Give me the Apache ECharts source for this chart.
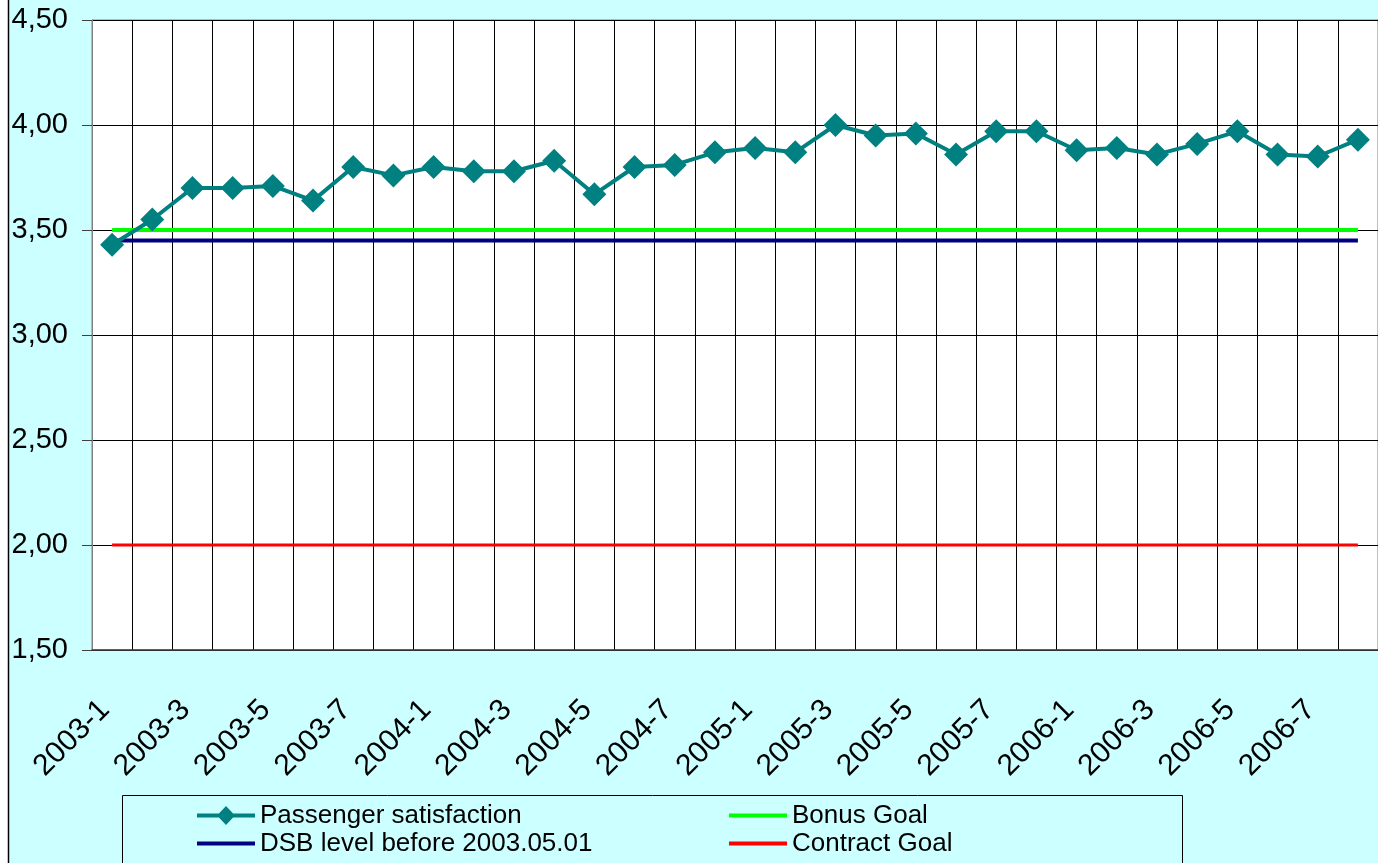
<!DOCTYPE html>
<html>
<head>
<meta charset="utf-8">
<script src="https://cdn.jsdelivr.net/npm/echarts@6/dist/echarts.min.js"></script>
<style>
  html, body { margin: 0; padding: 0; background: #fff; }
  #chart { width: 1378px; height: 863px; }
</style>
</head>
<body>
<div id="chart"></div>
<script>
// periods per year, 2003-1 .. 2006-8
const categories = [
  '2003-1', '2003-2', '2003-3', '2003-4', '2003-5', '2003-6', '2003-7', '2003-8',
  '2004-1', '2004-2', '2004-3', '2004-4', '2004-5', '2004-6', '2004-7', '2004-8',
  '2005-1', '2005-2', '2005-3', '2005-4', '2005-5', '2005-6', '2005-7', '2005-8',
  '2006-1', '2006-2', '2006-3', '2006-4', '2006-5', '2006-6', '2006-7', '2006-8'
]
const satisfaction = [
  3.43, 3.55, 3.70, 3.70, 3.71, 3.64, 3.80, 3.76,
  3.80, 3.78, 3.78, 3.83, 3.67, 3.80, 3.81, 3.87,
  3.89, 3.87, 4.00, 3.95, 3.96, 3.86, 3.97, 3.97,
  3.88, 3.89, 3.86, 3.91, 3.97, 3.86, 3.85, 3.93
]
// goal levels, drawn from the first to the last period
const bonusGoal = 3.50
const dsbLevel = 3.45
const contractGoal = 2.00

const first = categories[0]
const last = categories[categories.length - 1]
const font = "'Liberation Sans', Arial, sans-serif"

const chart = echarts.init(document.getElementById('chart'))

const legendText = { fontSize: 26, lineHeight: 27, color: '#000', fontFamily: font }
// line with a diamond on it, like the Excel legend key
const diamondKey = 'path://M0,7.5H58V11.5H0Z M29,0L38,9.5L29,19L20,9.5Z'

// one legend per entry, so each key can have its own icon size
const legendItem = (name, left, top, withDiamond) => ({
  orient: 'vertical', left, top, padding: 0,
  itemWidth: 58, itemHeight: withDiamond ? 19 : 4, itemGap: 0,
  icon: withDiamond ? diamondKey : 'rect',
  textStyle: legendText,
  data: [name]
})

chart.setOption({
  backgroundColor: '#fff',
  animation: false,
  textStyle: { fontFamily: font },
  graphic: [
    // chart area
    {
      type: 'rect', z: -10, silent: true,
      shape: { x: 8.5, y: -10, width: 1400, height: 900 },
      style: { fill: '#ccffff', stroke: '#000', lineWidth: 1.5 }
    },
    // legend frame
    {
      type: 'rect', z: 1, silent: true,
      shape: { x: 122.5, y: 795.5, width: 1060, height: 90 },
      style: { fill: 'none', stroke: '#000', lineWidth: 1 }
    }
  ],
  grid: {
    left: 92, top: 20, right: -6, bottom: 213,
    show: true, backgroundColor: '#fff', borderColor: '#808080', borderWidth: 1
  },
  legend: [
    legendItem('Passenger satisfaction', 197, 802, true),
    legendItem('DSB level before 2003.05.01', 197, 830, false),
    legendItem('Bonus Goal', 729, 802, false),
    legendItem('Contract Goal', 729, 830, false)
  ],
  xAxis: {
    type: 'category',
    data: categories,
    boundaryGap: true,
    axisLine: { lineStyle: { color: '#404040', width: 1.5 } },
    axisTick: { interval: 0, length: 10, lineStyle: { color: '#404040' } },
    splitLine: { show: true, interval: 0, lineStyle: { color: '#000', width: 1 } },
    axisLabel: {
      interval: 1, rotate: 45, margin: 48, padding: [0, 10, 0, 0],
      fontSize: 30, color: '#000', fontFamily: font
    }
  },
  yAxis: {
    type: 'value',
    min: 1.5, max: 4.5, interval: 0.5,
    axisLine: { show: true, lineStyle: { color: '#808080', width: 1 } },
    axisTick: { show: true, length: 10, lineStyle: { color: '#404040' } },
    splitLine: { lineStyle: { color: '#000', width: 1 } },
    axisLabel: {
      margin: 24, fontSize: 29, color: '#000', fontFamily: font,
      formatter: v => v.toFixed(2).replace('.', ',')
    }
  },
  series: [
    {
      name: 'Contract Goal', type: 'line', symbol: 'none', silent: true,
      data: [[first, contractGoal], [last, contractGoal]],
      lineStyle: { color: '#ff0000', width: 3 }, itemStyle: { color: '#ff0000' }
    },
    {
      name: 'DSB level before 2003.05.01', type: 'line', symbol: 'none', silent: true,
      data: [[first, dsbLevel], [last, dsbLevel]],
      lineStyle: { color: '#000080', width: 4 }, itemStyle: { color: '#000080' }
    },
    {
      name: 'Bonus Goal', type: 'line', symbol: 'none', silent: true,
      data: [[first, bonusGoal], [last, bonusGoal]],
      lineStyle: { color: '#00ff00', width: 4 }, itemStyle: { color: '#00ff00' }
    },
    {
      name: 'Passenger satisfaction', type: 'line', z: 5,
      data: satisfaction,
      symbol: 'diamond', symbolSize: 24,
      lineStyle: { color: '#008080', width: 4 },
      itemStyle: { color: '#008080' }
    }
  ]
})
</script>
</body>
</html>
